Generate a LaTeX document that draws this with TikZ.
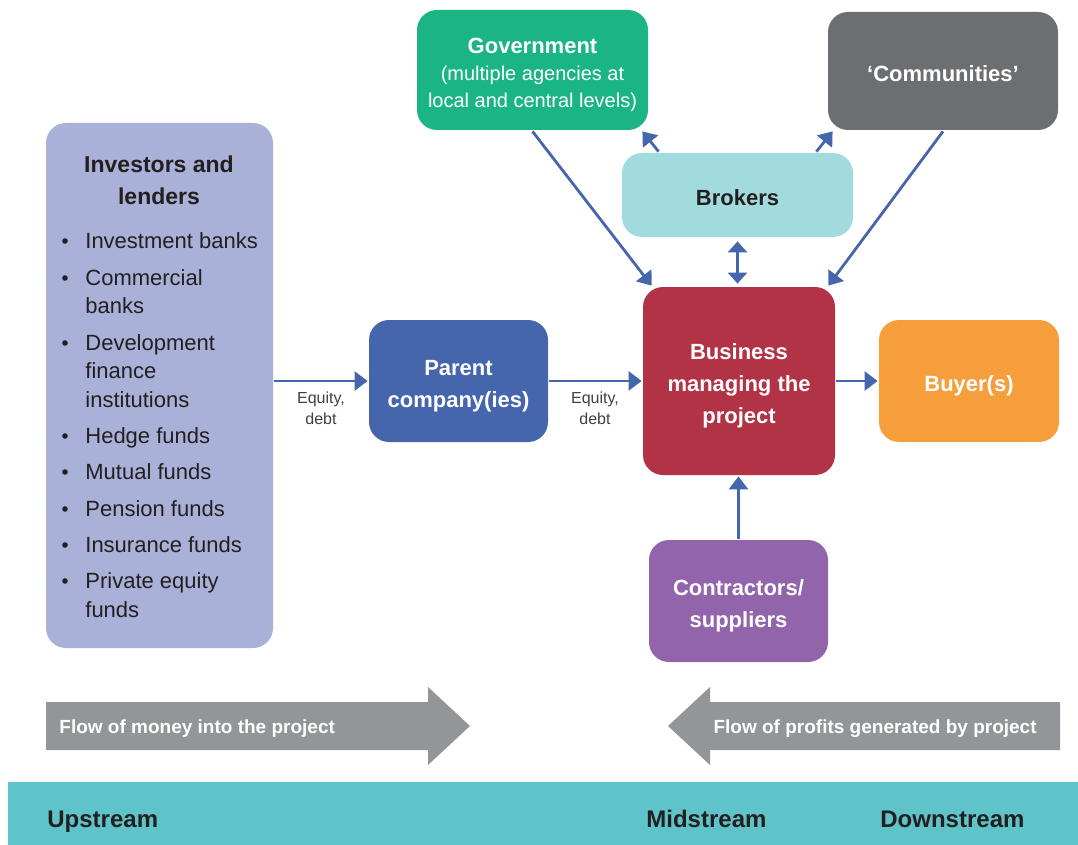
\documentclass[tikz,border=0pt]{standalone}
\usepackage{fontspec}
\setmainfont{Liberation Sans}
\usetikzlibrary{arrows.meta}
\definecolor{invcol}{HTML}{A9B1D8}
\definecolor{parcol}{HTML}{4565AD}
\definecolor{bizcol}{HTML}{B33346}
\definecolor{buycol}{HTML}{F79E3C}
\definecolor{concol}{HTML}{9264AB}
\definecolor{brkcol}{HTML}{A2DBDD}
\definecolor{govcol}{HTML}{1BB585}
\definecolor{comcol}{HTML}{6D6E71}
\definecolor{flowcol}{HTML}{939598}
\definecolor{bandcol}{HTML}{5EC4C9}
\definecolor{txtcol}{HTML}{231F20}
\definecolor{eqcol}{HTML}{414042}
\begin{document}
\begin{tikzpicture}[x=1pt,y=-1pt,line width=2.8pt,
  box/.style={rounded corners=20pt,inner sep=0pt,align=center,text=white,
    font=\fontsize{22}{32}\selectfont\bfseries},
  txtdrop/.style={execute at begin node={\rule{0pt}{#1pt}}},
  link/.style={parcol,-{Triangle[length=13pt,width=19pt]}},
  eqlab/.style={align=center,text=eqcol,font=\fontsize{16}{21}\selectfont},
  stream/.style={anchor=base west,text=txtcol,font=\fontsize{24}{28}\selectfont\bfseries}]
\useasboundingbox (0,0) rectangle (1078,845);

% boxes
\node[box,fill=invcol,minimum width=227,minimum height=525] (inv) at (159.5,385.5) {};
\node[box,txtdrop=58,fill=parcol,minimum width=179,minimum height=122] (parent) at (458.5,381) {Parent\\company(ies)};
\node[box,txtdrop=90,fill=bizcol,minimum width=192,minimum height=188] (biz) at (739,381) {Business\\managing the\\project};
\node[box,txtdrop=26,fill=buycol,minimum width=180,minimum height=122] (buyer) at (969,381) {Buyer(s)};
\node[box,txtdrop=58,fill=concol,minimum width=179,minimum height=122] (contr) at (738.5,601) {Contractors/\\suppliers};
\node[box,txtdrop=22,fill=brkcol,text=txtcol,minimum width=231,minimum height=84] (brokers) at (737.5,195) {Brokers};
\node[box,txtdrop=80,fill=govcol,minimum width=231,minimum height=120,font=\fontsize{20}{27}\selectfont] (gov) at (532.5,70)
  {{\fontsize{22}{27}\selectfont\bfseries Government}\\(multiple agencies at\\local and central levels)};
\node[box,txtdrop=22,fill=comcol,minimum width=230,minimum height=118] (comm) at (943,71) {‘Communities’};

% investors list
\node[align=center,text=txtcol,font=\fontsize{23}{32}\selectfont\bfseries] (invtitle) at (159,180) {Investors and\\lenders};
\foreach \y/\txt/\b in {248/Investment banks/1, 285/Commercial/1, 313/banks/0, 350/Development/1,
  378/finance/0, 407/institutions/0, 443/Hedge funds/1, 479/Mutual funds/1, 516/Pension funds/1,
  552/Insurance funds/1, 588/Private equity/1, 617/funds/0} {
	\node[anchor=base west,inner sep=0pt,text=txtcol,font=\fontsize{22}{29}\selectfont] (item\y) at (84,\y) {\txt};
	\ifnum\b=1 \fill[txtcol] (65,\y-7) circle (2.8); \fi
}

% connectors
\draw[link] (inv.east |- parent.west) -- (parent.west);
\draw[link] (parent.east) -- (parent.east -| biz.west);
\draw[link] (biz.east) -- (buyer.west);
\draw[link] (contr.north) -- (contr.north |- biz.south);
\draw[link,{Triangle[length=11pt,width=19pt]}-{Triangle[length=11pt,width=19pt]}] ([yshift=-3]brokers.south) -- ([yshift=2]brokers.south |- biz.north);
\draw[link] (gov.south) -- ([xshift=10]biz.north west);
\draw[link] (comm.south) -- ([xshift=-8]biz.north east);
\draw[link] ([xshift=38]brokers.north west) -- ([xshift=-7]gov.south east);
\draw[link] ([xshift=-38]brokers.north east) -- ([xshift=6]comm.south west);

\node[eqlab] (eq1) at (321,408) {Equity,\\debt};
\node[eqlab] (eq2) at (595,408) {Equity,\\debt};

% flow arrows
\fill[flowcol] (46,702) -- (428,702) -- (428,687) -- (470,726) -- (428,765) -- (428,750) -- (46,750) -- cycle;
\fill[flowcol] (1060,702) -- (710,702) -- (710,687) -- (668,726) -- (710,765) -- (710,750) -- (1060,750) -- cycle;
\node[anchor=base west,inner sep=0pt,text=white,font=\fontsize{19}{22}\selectfont\bfseries] (flowin) at (58,733) {Flow of money into the project};
\node[anchor=base east,inner sep=0pt,text=white,font=\fontsize{19}{22}\selectfont\bfseries] (flowout) at (1038,733) {Flow of profits generated by project};

% stream band
\fill[bandcol] (8,782) rectangle (1078,845);
\node[stream,inner sep=0pt] (up) at (46,827) {Upstream};
\node[stream,inner sep=0pt] (mid) at (645,827) {Midstream};
\node[stream,inner sep=0pt] (down) at (879,827) {Downstream};

\end{tikzpicture}
\end{document}
